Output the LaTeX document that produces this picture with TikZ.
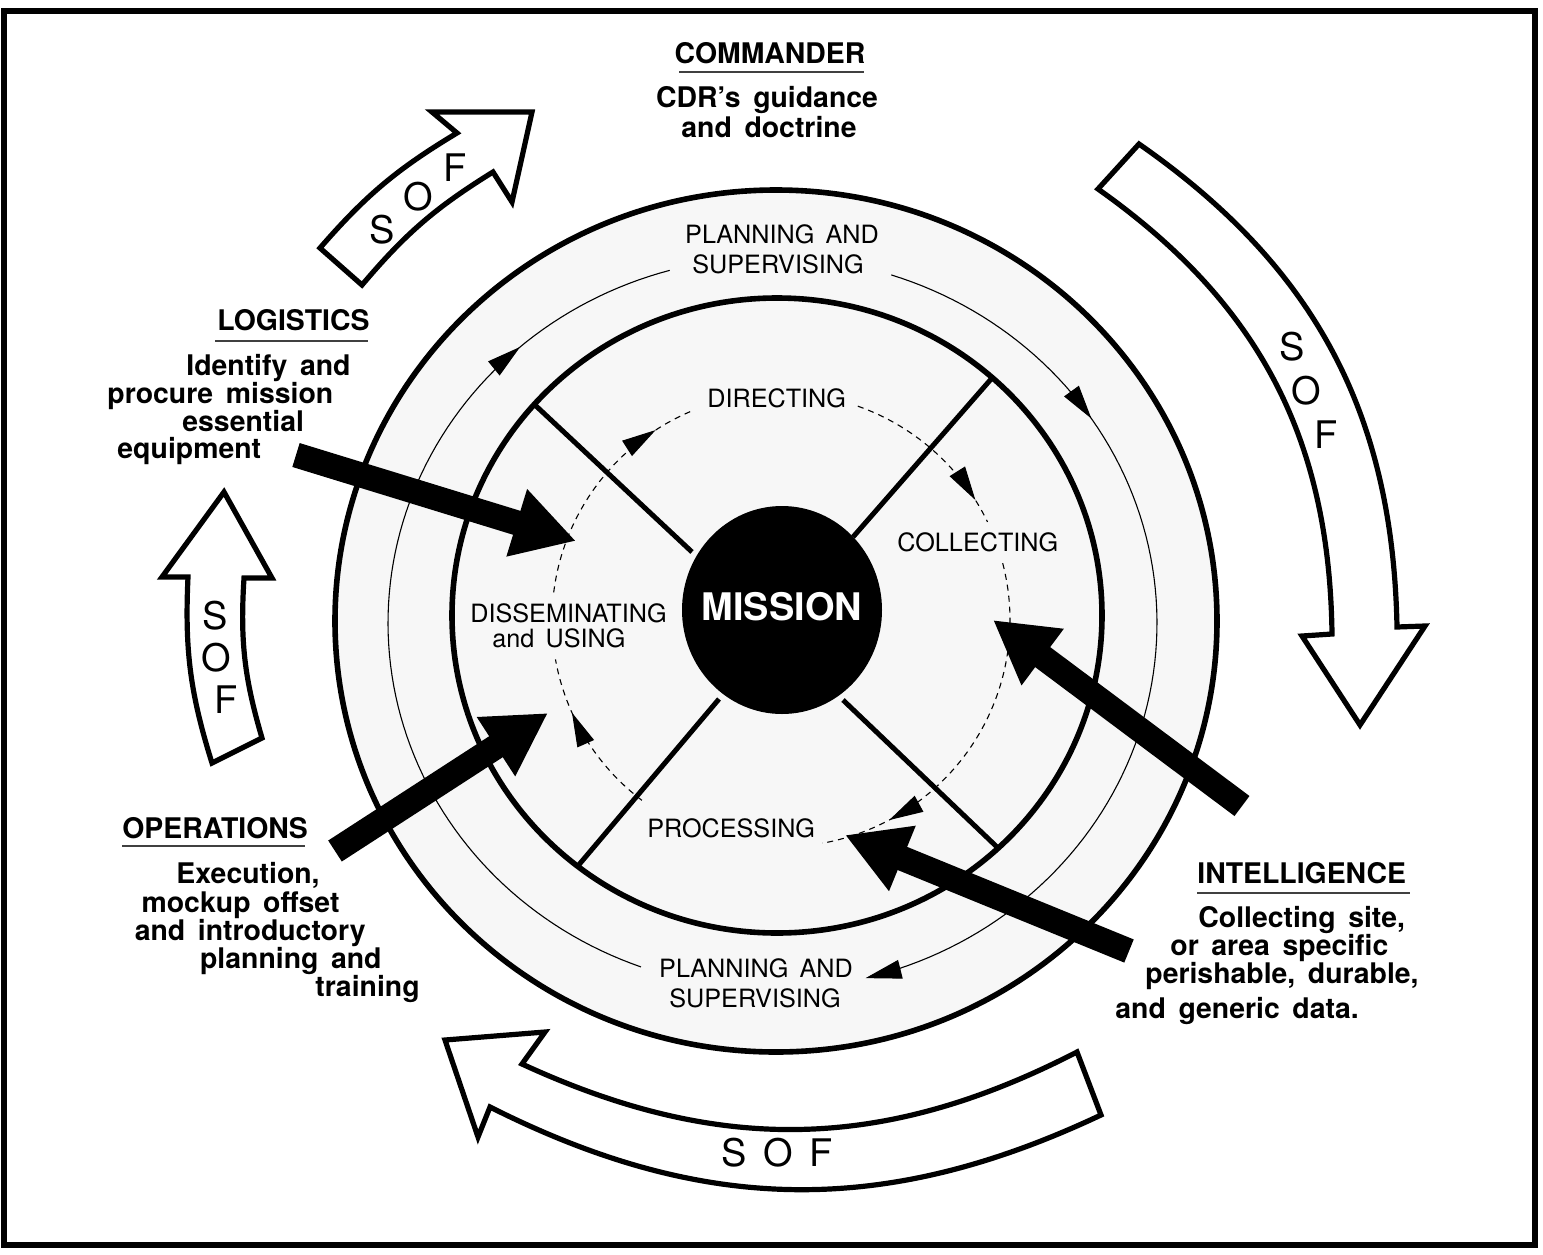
\documentclass[tikz,border=0pt]{standalone}
\usepackage{fontspec}
\setmainfont{TeX Gyre Heros}[WordSpace=1.6]
\usetikzlibrary{arrows.meta,decorations.markings,shapes.geometric}
\begin{document}
\begin{tikzpicture}[x=0.5pt,y=-0.5pt,
  framebox/.style={line width=2.6pt},
  thickring/.style={line width=2.8pt},
  divider/.style={line width=2.5pt},
  thinring/.style={line width=0.55pt},
  dashring/.style={line width=0.55pt,dash pattern=on 3pt off 2.5pt},
  endtri/.style={-{Triangle[length=18pt,width=9.5pt]}},
  midtri/.style={postaction={decorate},decoration={markings,mark=at position #1 with {\arrow{Triangle[length=17pt,width=9pt]}}}},
  bigarrow/.style={line width=12.5pt,-{Triangle[length=31pt,width=33pt]}},
  sofarrow/.style={line width=2.6pt,fill=white,line join=miter},
  uline/.style={line width=0.9pt,black!75},
  hdr/.style={font=\bfseries\fontsize{14.2}{16}\selectfont,inner sep=0pt},
  ringlbl/.style={font=\fontsize{12.6}{15}\selectfont,inner sep=0pt},
  soflbl/.style={font=\fontsize{19}{21}\selectfont,inner sep=0pt}
]
\useasboundingbox (0,0) rectangle (1543,1254);
% frame
\draw[framebox] (4,11) rectangle (1535,1245);

% shaded interior
\fill[black!3] (776,621) ellipse [x radius=441, y radius=431];

% thin planning ring (clockwise)
\draw[thinring,endtri,midtri=0.26] plot[domain=-72:76,samples=90] ({772.5+384.5*cos(\x)},{623+366*sin(\x)});
\draw[thinring,midtri=0.82] plot[domain=110:254.5,samples=90] ({772.5+384.5*cos(\x)},{623+366*sin(\x)});

% dashed intelligence cycle
\draw[dashring,midtri=0.86] plot[domain=-70.4:-25.6,samples=40] ({781+229*cos(\x)},{620+227*sin(\x)});
\draw[dashring,midtri=0.81] plot[domain=-14.5:79.6,samples=70] ({781+229*cos(\x)},{620+227*sin(\x)});
\draw[dashring,midtri=0.67] plot[domain=127.4:170,samples=40] ({781+229*cos(\x)},{620+227*sin(\x)});
\draw[dashring,midtri=0.82] plot[domain=187:247.7,samples=50] ({781+229*cos(\x)},{620+227*sin(\x)});

% thick rings
\draw[thickring] (776,621) ellipse [x radius=441, y radius=431];
\draw[thickring] (777,615.5) ellipse [x radius=325, y radius=317.5];

% mission disk
\node[ellipse,fill=black,minimum width=100pt,minimum height=104pt,inner sep=0pt] (mdisk) at (782,610) {};

% dividers
\coordinate (d1a) at (535,405); \coordinate (d1b) at (692,552);
\coordinate (d2a) at (992,378); \coordinate (d2b) at (853,537);
\coordinate (d3a) at (577,867); \coordinate (d3b) at (719,699);
\coordinate (d4a) at (997,847); \coordinate (d4b) at (843,700);
\draw[divider] (d1a) -- (d1b);
\draw[divider] (d2a) -- (d2b);
\draw[divider] (d3a) -- (d3b);
\draw[divider] (d4a) -- (d4b);

% ring labels
\node[ringlbl,anchor=base] (pt1) at (782,243) {PLANNING AND};
\node[ringlbl,anchor=base] (pt2) at (778,273) {SUPERVISING};
\node[ringlbl,anchor=base] (pb1) at (756,977) {PLANNING AND};
\node[ringlbl,anchor=base] (pb2) at (755,1007) {SUPERVISING};
\node[ringlbl,anchor=base west] (dir) at (707,407) {DIRECTING};
\node[ringlbl,anchor=base west] (col) at (897,551) {COLLECTING};
\node[ringlbl,anchor=base west] (dis1) at (470,622) {DISSEMINATING};
\node[ringlbl,anchor=base west] (dis2) at (492,647) {and USING};
\node[ringlbl,anchor=base west] (pro) at (647,837) {PROCESSING};
\node[anchor=base,inner sep=0pt,text=white,font=\bfseries\fontsize{19}{21}\selectfont] (mis) at (782,620) {MISSION};

% SOF arrows
\draw[sofarrow] (320,248) to[bend left=9] (457,133) -- (432,112) -- (532,112) -- (512,202) -- (493,172) to[bend right=9] (362,285) -- cycle;
\draw[sofarrow] (1139,144) to[bend left=27] (1397,627) -- (1425,626) -- (1360,725) -- (1302,636) -- (1332,634) to[bend right=27] (1098,189) -- cycle;
\draw[sofarrow] (1077,1052) -- (1101,1115) to[bend left=26] (490,1107) -- (478,1137) -- (445,1040) -- (545,1032) -- (522,1064) to[bend right=26] cycle;
\draw[sofarrow] (224,492) -- (272,578) -- (244,578) to[bend right=10] (262,738) -- (212,763) to[bend left=10] (188,577) -- (162,577) -- cycle;

\node[soflbl] (s1s) at (382,230) {S};
\node[soflbl] (s1o) at (418,197) {O};
\node[soflbl] (s1f) at (455,168) {F};
\node[soflbl] (s2s) at (1292,347) {S};
\node[soflbl] (s2o) at (1306,391) {O};
\node[soflbl] (s2f) at (1326,435) {F};
\node[soflbl] (s3) at (777,1153) {S O F};
\node[soflbl] (s4s) at (215,616) {S};
\node[soflbl] (s4o) at (216,658) {O};
\node[soflbl] (s4f) at (226,700) {F};

% headers and texts
\node[hdr,anchor=base] (cmd) at (770,63) {COMMANDER};
\draw[uline] (679,72) -- (864,72);
\node[hdr,anchor=base] (cmd1) at (767,107) {CDR's guidance};
\node[hdr,anchor=base] (cmd2) at (769,137) {and doctrine};

\node[hdr,anchor=base west] (log) at (217,330) {LOGISTICS};
\draw[uline] (215,341) -- (368,341);
\node[hdr,anchor=base west] (log1) at (186,375) {Identify and};
\node[hdr,anchor=base west] (log2) at (107,403) {procure mission};
\node[hdr,anchor=base west] (log3) at (182,431) {essential};
\node[hdr,anchor=base west] (log4) at (117,458) {equipment};

\node[hdr,anchor=base west] (ops) at (122,838) {OPERATIONS};
\draw[uline] (122,846) -- (305,846);
\node[hdr,anchor=base east] (ops1) at (320,883) {Execution,};
\node[hdr,anchor=base east] (ops2) at (340,912) {mockup offset};
\node[hdr,anchor=base east] (ops3) at (366,940) {and introductory};
\node[hdr,anchor=base east] (ops4) at (382,968) {planning and};
\node[hdr,anchor=base east] (ops5) at (420,996) {training};

\node[hdr,anchor=base west] (int) at (1197,883) {INTELLIGENCE};
\draw[uline] (1197,893) -- (1410,893);
\node[hdr,anchor=base west] (int1) at (1198,927) {Collecting site,};
\node[hdr,anchor=base west] (int2) at (1170,955) {or area specific};
\node[hdr,anchor=base west] (int3) at (1145,983) {perishable, durable,};
\node[hdr,anchor=base west] (int4) at (1115,1018) {and generic data.};

% thick black arrows
\coordinate (logT) at (296,455); \coordinate (logH) at (576,541);
\coordinate (opsT) at (335,851); \coordinate (opsH) at (548,713);
\coordinate (intAT) at (1242,806); \coordinate (intAH) at (993,620);
\coordinate (intBT) at (1129,951); \coordinate (intBH) at (845,835);
\draw[bigarrow] (logT) -- (logH);
\draw[bigarrow] (opsT) -- (opsH);
\draw[bigarrow] (intAT) -- (intAH);
\draw[bigarrow] (intBT) -- (intBH);
\end{tikzpicture}
\end{document}
